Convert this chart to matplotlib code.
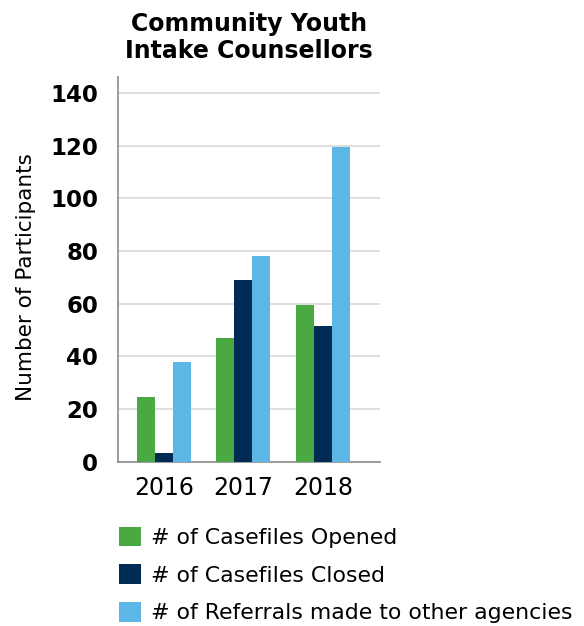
import numpy as np
import matplotlib
matplotlib.use("Agg")
import matplotlib.pyplot as plt
from matplotlib.patches import Patch

# values
years = ["2016", "2017", "2018"]
opened = [24.5, 47, 59.5]
closed = [3.3, 69, 51.5]
referrals = [38, 78, 119.3]
series_labels = ["# of Casefiles Opened", "# of Casefiles Closed",
                 "# of Referrals made to other agencies"]
colors = ["#4AA942", "#002B55", "#5DB7E6"]
yticks = [0, 20, 40, 60, 80, 100, 120, 140]

plt.rcParams['font.family'] = ['DejaVu Sans']

fig = plt.figure(figsize=(5.84, 6.26), dpi=100)
ax = fig.add_axes([0.2015, 0.2625, 0.4495, 0.6145])

x = np.arange(len(years))
w = 0.226
for i, vals in enumerate([opened, closed, referrals]):
    ax.bar(x + (i - 1) * w, vals, width=w, color=colors[i], zorder=3)

ax.set_xlim(-0.58, 2.72)
ax.set_ylim(0, 146)
ax.set_yticks(yticks)
ax.set_yticklabels([str(t) for t in yticks], fontsize=16.5, fontweight='bold')
ax.set_xticks(x)
ax.set_xticklabels(years, fontsize=17)
ax.tick_params(axis='both', length=0)
ax.tick_params(axis='y', pad=14)
ax.tick_params(axis='x', pad=10)
ax.grid(axis='y', color='#d9d9d9', linewidth=1.2, zorder=0)

for s in ['top', 'right']:
    ax.spines[s].set_visible(False)
for s in ['left', 'bottom']:
    ax.spines[s].set_color('#8c8c8c')
    ax.spines[s].set_linewidth(1.2)

ax.set_ylabel("Number of Participants", fontsize=15.5)
ax.yaxis.set_label_coords(-0.31, 0.479)
ax.set_title("Community Youth\nIntake Counsellors", fontsize=17,
             fontweight='black', pad=14, linespacing=1.15)

handles = [Patch(facecolor=c, edgecolor='none') for c in colors]
fig.legend(handles, series_labels, loc='upper left',
           bbox_to_anchor=(110 / 584, 1 - 518 / 626), frameon=False,
           fontsize=15.8, handlelength=1.0, handleheight=1.0,
           handletextpad=0.45, labelspacing=0.74, borderaxespad=0)

fig.savefig("out.png", dpi=100)
